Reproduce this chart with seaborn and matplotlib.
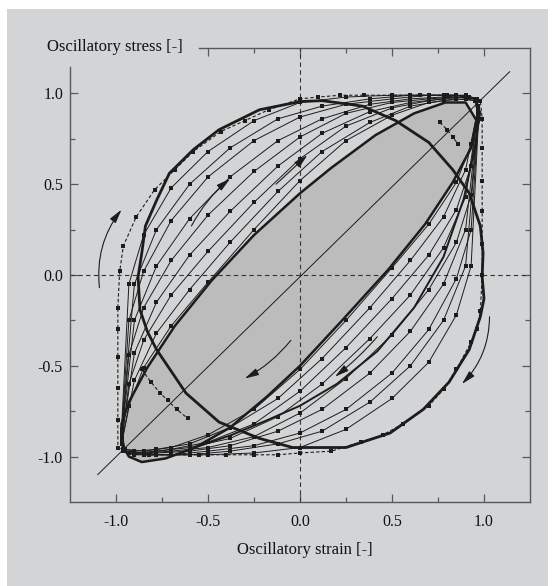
import matplotlib
matplotlib.use("Agg")
import matplotlib.pyplot as plt
from matplotlib.patches import Rectangle
from matplotlib.ticker import FormatStrFormatter, NullFormatter
import seaborn as sns


# ==========================================================
# DATA
# ==========================================================

X_LABEL = "Oscillatory strain [-]"
Y_LABEL = "Oscillatory stress [-]"
MAJOR_TICKS = [-1.0, -0.5, 0.0, 0.5, 1.0]
MINOR_TICKS = [-0.75, -0.25, 0.25, 0.75]
TOP_MAJOR_TICKS = [-0.5, 0.0, 0.5, 1.0]
TOP_MINOR_TICKS = [-0.25, 0.25, 0.75]

# shaded linear-response ellipse (with the lower-left tail)
GRAY_X = [0.96, 0.90, 0.79, 0.62, 0.41, 0.17, 0.00, -0.25, -0.48, -0.68, -0.83, -0.93,
          -0.97, -0.97, -0.93, -0.86, -0.73, -0.57, -0.38, -0.18, 0.00, 0.22, 0.48,
          0.68, 0.83, 0.93, 0.96]
GRAY_Y = [0.85, 0.95, 0.95, 0.89, 0.77, 0.59, 0.45, 0.22, -0.03, -0.28, -0.51, -0.70,
          -0.82, -0.93, -1.00, -1.03, -1.01, -0.95, -0.84, -0.67, -0.50, -0.26, 0.03,
          0.28, 0.51, 0.70, 0.85]

# thick lower branch leaving the tail
TAIL_X = [-0.57, -0.37, -0.18, 0.00, 0.20, 0.42, 0.62, 0.78, 0.89, 0.95, 0.98]
TAIL_Y = [-0.95, -0.88, -0.80, -0.72, -0.60, -0.42, -0.18, 0.10, 0.42, 0.70, 0.90]

# thick, almost circular loop
CIRCLE_X = [0.00, 0.12, 0.34, 0.52, 0.70, 0.83, 0.92, 0.98, 0.995, 0.99, 1.00, 0.98,
            0.92, 0.81, 0.67, 0.49, 0.25, -0.04, -0.22, -0.44, -0.62, -0.78, -0.83,
            -0.87, -0.88, -0.86, -0.84, -0.78, -0.71, -0.58, -0.44, -0.22, 0.00]
CIRCLE_Y = [0.955, 0.96, 0.93, 0.85, 0.73, 0.58, 0.45, 0.27, 0.12, -0.01, -0.13, -0.23,
            -0.41, -0.59, -0.74, -0.87, -0.95, -0.95, -0.90, -0.81, -0.65, -0.41, -0.31,
            -0.19, -0.01, 0.12, 0.27, 0.41, 0.56, 0.69, 0.80, 0.91, 0.955]

# outer dashed loop with square markers
OUTER_X = [-0.99, -0.98, -0.96, -0.89, -0.79, -0.68, -0.58, -0.43, -0.30, -0.17, 0.00,
           0.10, 0.22, 0.35, 0.50, 0.65, 0.80, 0.92,
           0.98, 0.99, 0.99, 0.99, 0.99, 0.99, 0.99, 0.98,
           0.96, 0.93, 0.85, 0.78, 0.70, 0.56, 0.45, 0.33, 0.17, 0.00,
           -0.12, -0.25, -0.40, -0.55, -0.70, -0.82, -0.93,
           -0.99, -0.99, -0.99, -0.99, -0.99, -0.99]
OUTER_Y = [-0.18, 0.02, 0.16, 0.32, 0.47, 0.58, 0.68, 0.79, 0.85, 0.91, 0.97,
           0.98, 0.99, 0.99, 0.99, 0.99, 0.99, 0.98,
           0.96, 0.86, 0.70, 0.52, 0.35, 0.17, 0.00, -0.20,
           -0.30, -0.37, -0.52, -0.63, -0.72, -0.82, -0.88, -0.92, -0.97, -0.98,
           -0.99, -0.99, -0.99, -0.99, -0.99, -0.99, -0.98,
           -0.95, -0.80, -0.62, -0.45, -0.30, -0.18]

# short dashed pieces inside the shaded ellipse
INNER_LL_X = [-0.86, -0.81, -0.76, -0.72, -0.67, -0.61]
INNER_LL_Y = [-0.52, -0.59, -0.65, -0.69, -0.74, -0.79]
INNER_UR_X = [0.76, 0.80, 0.83, 0.86]
INNER_UR_Y = [0.84, 0.80, 0.76, 0.72]

# thin intermediate loops (sampled, with square markers)
LOOP_XA = [-0.97, -0.93, -0.85, -0.70, -0.50, -0.25, 0.00, 0.25, 0.50, 0.70, 0.85, 0.95,
           0.97, 0.93, 0.85, 0.70, 0.50, 0.25, 0.00, -0.25, -0.50, -0.70, -0.85, -0.95,
           -0.97]
LOOP_XB = [-0.97, -0.90, -0.78, -0.60, -0.38, -0.12, 0.12, 0.38, 0.60, 0.78, 0.90, 0.96,
           0.97, 0.90, 0.78, 0.60, 0.38, 0.12, -0.12, -0.38, -0.60, -0.78, -0.90, -0.96,
           -0.97]

LOOP1_Y = [-0.93, -0.72, -0.51, -0.28, -0.04, 0.25, 0.52, 0.74, 0.88, 0.95, 0.97, 0.96,
           0.93, 0.72, 0.51, 0.28, 0.04, -0.25, -0.52, -0.74, -0.88, -0.95, -0.97, -0.96,
           -0.93]
LOOP2_Y = [-0.93, -0.58, -0.32, -0.08, 0.18, 0.46, 0.68, 0.84, 0.93, 0.96, 0.97, 0.96,
           0.93, 0.58, 0.32, 0.08, -0.18, -0.46, -0.68, -0.84, -0.93, -0.96, -0.97, -0.96,
           -0.93]
LOOP3_Y = [-0.92, -0.60, -0.36, -0.11, 0.13, 0.40, 0.64, 0.82, 0.92, 0.96, 0.98, 0.97,
           0.92, 0.60, 0.36, 0.11, -0.13, -0.40, -0.64, -0.82, -0.92, -0.96, -0.98, -0.97,
           -0.92]
LOOP4_Y = [-0.91, -0.43, -0.15, 0.11, 0.35, 0.60, 0.78, 0.90, 0.95, 0.97, 0.98, 0.97,
           0.91, 0.43, 0.15, -0.11, -0.35, -0.60, -0.78, -0.90, -0.95, -0.97, -0.98, -0.97,
           -0.91]
LOOP5_Y = [-0.90, -0.44, -0.18, 0.08, 0.33, 0.57, 0.76, 0.89, 0.95, 0.97, 0.98, 0.97,
           0.90, 0.44, 0.18, -0.08, -0.33, -0.57, -0.76, -0.89, -0.95, -0.97, -0.98, -0.97,
           -0.90]
LOOP6_Y = [-0.89, -0.25, 0.05, 0.31, 0.54, 0.74, 0.86, 0.94, 0.97, 0.98, 0.99, 0.97,
           0.89, 0.25, -0.05, -0.31, -0.54, -0.74, -0.86, -0.94, -0.97, -0.98, -0.99, -0.97,
           -0.89]
LOOP7_Y = [-0.87, -0.25, 0.02, 0.30, 0.54, 0.74, 0.87, 0.94, 0.97, 0.99, 0.99, 0.97,
           0.87, 0.25, -0.02, -0.30, -0.54, -0.74, -0.87, -0.94, -0.97, -0.99, -0.99, -0.97,
           -0.87]
LOOP8_Y = [-0.86, -0.05, 0.25, 0.50, 0.70, 0.86, 0.93, 0.97, 0.99, 0.99, 0.99, 0.97,
           0.86, 0.05, -0.25, -0.50, -0.70, -0.86, -0.93, -0.97, -0.99, -0.99, -0.99, -0.97,
           -0.86]
LOOP9_Y = [-0.85, -0.05, 0.22, 0.48, 0.68, 0.85, 0.95, 0.98, 0.99, 0.99, 0.99, 0.97,
           0.85, 0.05, -0.22, -0.48, -0.68, -0.85, -0.95, -0.98, -0.99, -0.99, -0.99, -0.97,
           -0.85]

LOOPS = [(LOOP_XA, LOOP1_Y), (LOOP_XB, LOOP2_Y), (LOOP_XA, LOOP3_Y),
         (LOOP_XB, LOOP4_Y), (LOOP_XA, LOOP5_Y), (LOOP_XB, LOOP6_Y),
         (LOOP_XA, LOOP7_Y), (LOOP_XB, LOOP8_Y), (LOOP_XA, LOOP9_Y)]

# diagonal reference line
DIAG_X = [-1.10, 1.14]
DIAG_Y = [-1.10, 1.12]

# direction arrows: tail, head, curvature
ARROW_TAIL = [(-1.09, -0.07), (-0.59, 0.27), (-0.13, 0.50), (-0.05, -0.36), (0.42, -0.34), (1.03, -0.23)]
ARROW_HEAD = [(-0.97, 0.36), (-0.38, 0.53), (0.04, 0.66), (-0.30, -0.57), (0.19, -0.56), (0.88, -0.60)]
ARROW_RAD = [-0.2, -0.1, 0.0, -0.1, -0.05, -0.2]


# ==========================================================
# STYLE
# ==========================================================

BG = "#d3d4d6"
FILL = "#bcbcbd"
INK = "#1c1c1c"
SPINE = "#585858"

sns.set_theme(style="ticks")
plt.rcParams["font.family"] = ["Liberation Serif", "DejaVu Serif"]
plt.rcParams["axes.unicode_minus"] = False


# ==========================================================
# PLOT
# ==========================================================

fig = plt.figure(figsize=(5.55, 5.86), dpi=100, facecolor="white")
fig.add_artist(Rectangle((7 / 555, 0), 541 / 555, 577 / 586, transform=fig.transFigure,
                         facecolor=BG, edgecolor="none", zorder=-10))

ax = fig.add_axes([70 / 555, 1 - 502 / 586, 460 / 555, 454 / 586])
ax.set_facecolor(BG)

ax.axhline(0, color="#333333", lw=0.8, ls=(0, (4, 3)), zorder=1)
ax.axvline(0, color="#333333", lw=0.8, ls=(0, (4, 3)), zorder=1)

ax.fill(GRAY_X, GRAY_Y, color=FILL, lw=0, zorder=0.5)

sns.lineplot(x=DIAG_X, y=DIAG_Y, sort=False, estimator=None, ax=ax,
             color=INK, lw=0.7, zorder=2)

for xs, ys in LOOPS:
    sns.lineplot(x=xs, y=ys, sort=False, estimator=None, ax=ax,
                 color=INK, lw=0.7, marker="s", markersize=2.4,
                 markeredgewidth=0, zorder=3)

sns.lineplot(x=OUTER_X, y=OUTER_Y, sort=False, estimator=None, ax=ax,
             color=INK, lw=0.8, ls=(0, (3, 2)), marker="s", markersize=2.6,
             markeredgewidth=0, zorder=3)
for xs, ys in [(INNER_LL_X, INNER_LL_Y), (INNER_UR_X, INNER_UR_Y)]:
    sns.lineplot(x=xs, y=ys, sort=False, estimator=None, ax=ax,
                 color=INK, lw=0.8, ls=(0, (3, 2)), marker="s", markersize=2.6,
                 markeredgewidth=0, zorder=3)

sns.lineplot(x=GRAY_X, y=GRAY_Y, sort=False, estimator=None, ax=ax,
             color=INK, lw=1.8, zorder=4)
sns.lineplot(x=TAIL_X, y=TAIL_Y, sort=False, estimator=None, ax=ax,
             color=INK, lw=1.4, zorder=4)
sns.lineplot(x=CIRCLE_X, y=CIRCLE_Y, sort=False, estimator=None, ax=ax,
             color=INK, lw=2.0, zorder=4)

for tail, head, rad in zip(ARROW_TAIL, ARROW_HEAD, ARROW_RAD):
    ax.annotate("", xy=head, xytext=tail, zorder=5,
                arrowprops=dict(arrowstyle="-|>,head_length=0.7,head_width=0.18",
                                color=INK, lw=0.8, shrinkA=0, shrinkB=0,
                                connectionstyle=f"arc3,rad={rad}"))

# axes, ticks and spines
ax.set_xlim(-1.25, 1.25)
ax.set_ylim(-1.25, 1.25)
ax.set_xticks(MAJOR_TICKS)
ax.set_yticks(MAJOR_TICKS)
ax.set_xticks(MINOR_TICKS, minor=True)
ax.set_yticks(MINOR_TICKS, minor=True)
ax.xaxis.set_major_formatter(FormatStrFormatter("%.1f"))
ax.yaxis.set_major_formatter(FormatStrFormatter("%.1f"))

ax.tick_params(which="both", direction="in", top=False, right=True,
               color=SPINE, width=0.9, labelsize=11.5, labelcolor="#111111")
ax.tick_params(which="major", length=6)
ax.tick_params(which="minor", length=3.5)
ax.tick_params(axis="x", pad=9)
ax.tick_params(axis="y", pad=5)

for side in ["left", "right", "bottom"]:
    ax.spines[side].set_color(SPINE)
    ax.spines[side].set_linewidth(1.0)
ax.spines["top"].set_visible(False)
ax.spines["left"].set_bounds(-1.25, 1.145)

# top axis only starts right of the stress label
top = ax.secondary_xaxis("top")
top.set_xticks(TOP_MAJOR_TICKS)
top.set_xticks(TOP_MINOR_TICKS, minor=True)
top.xaxis.set_major_formatter(NullFormatter())
top.tick_params(which="both", direction="in", color=SPINE, width=0.9)
top.tick_params(which="major", length=6)
top.tick_params(which="minor", length=3.5)
top.spines["top"].set_color(SPINE)
top.spines["top"].set_linewidth(1.0)
top.spines["top"].set_bounds(-0.55, 1.25)

ax.set_xlabel("")
ax.set_ylabel("")
fig.text(47 / 555, 1 - 47 / 586, Y_LABEL, ha="left", va="center", fontsize=12, color="#111111")
fig.text(305 / 555, 1 - 550 / 586, X_LABEL, ha="center", va="center", fontsize=12, color="#111111")

fig.savefig("out.png", dpi=100, facecolor="white")
